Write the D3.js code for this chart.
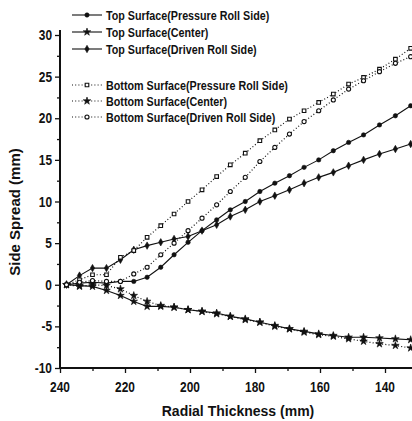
<!DOCTYPE html>
<html>
<head>
<meta charset="utf-8">
<script src="https://cdn.jsdelivr.net/npm/d3@7"></script>
<style>
  html, body { margin: 0; padding: 0; background: #fff; }
  svg { display: block; }
  text { font-family: "Liberation Sans", Arial, sans-serif; font-weight: bold; fill: #111; }
</style>
</head>
<body>
<svg id="chart" width="412" height="421"></svg>
<script>
// ---- data ----
const radialThickness = [238, 234, 230, 225.7, 221.4, 217.3, 213.2, 209, 204.9, 200.6, 196.3, 191.8, 187.6, 183, 178.5, 173.9, 169.4, 164.9, 160.4, 155.9, 151.2, 146.6, 141.7, 136.8, 132.1];

const topPressure   = [0, 0.2, 0.3, 0.2, 0.4, 0.4, 0.9, 2.1, 3.6, 5.1, 6.5, 7.8, 9.0, 10.0, 11.2, 12.2, 13.1, 14.1, 15.0, 16.1, 17.1, 18.0, 19.2, 20.3, 21.5];
const topCenter     = [0, -0.1, -0.2, -0.7, -1.3, -2.0, -2.6, -2.6, -2.7, -3.0, -3.2, -3.4, -3.8, -4.1, -4.5, -4.9, -5.3, -5.6, -5.9, -6.1, -6.3, -6.3, -6.4, -6.5, -6.6];
const topDriven     = [0, 1.1, 2.0, 2.0, 3.0, 4.2, 4.7, 5.1, 5.5, 5.8, 6.5, 7.2, 8.2, 9.0, 10.0, 10.7, 11.4, 12.2, 12.9, 13.5, 14.3, 15.0, 15.7, 16.3, 16.9];
const bottomPressure = [0, 0.6, 1.2, 1.2, 3.3, 4.1, 5.7, 7.1, 8.5, 10.0, 11.4, 13.0, 14.4, 15.8, 17.3, 18.6, 19.9, 20.9, 21.9, 22.9, 24.1, 24.9, 25.9, 27.1, 28.4];
const bottomCenter  = [0, -0.2, 0, -0.1, -0.5, -1.3, -2.0, -2.5, -2.7, -3.0, -3.2, -3.5, -3.8, -4.2, -4.5, -5.0, -5.3, -5.7, -6.0, -6.2, -6.5, -6.8, -7.1, -7.3, -7.6];
const bottomDriven  = [0, 0.3, 0.5, 0.4, 0.4, 1.3, 2.1, 3.6, 5.0, 6.5, 8.0, 9.6, 11.2, 12.9, 14.8, 16.5, 18.1, 19.6, 20.9, 22.2, 23.5, 24.5, 25.6, 26.6, 27.4];

const seriesNames = [
  "Top Surface(Pressure Roll Side)",
  "Top Surface(Center)",
  "Top Surface(Driven Roll Side)",
  "Bottom Surface(Pressure Roll Side)",
  "Bottom Surface(Center)",
  "Bottom Surface(Driven Roll Side)"
];
const seriesValues = [topPressure, topCenter, topDriven, bottomPressure, bottomCenter, bottomDriven];

const xTicks = [240, 220, 200, 180, 160, 140];
const xMinorTicks = [230, 210, 190, 170, 150, 130];
const yTicks = [-10, -5, 0, 5, 10, 15, 20, 25, 30];
const yMinorTicks = [-7.5, -2.5, 2.5, 7.5, 12.5, 17.5, 22.5, 27.5];
const xTitle = "Radial Thickness (mm)";
const yTitle = "Side Spread (mm)";

// ---- styles per series ----
const styles = [
  { symbol: d3.symbolCircle, size: 15, fill: true,  dash: null },
  { symbol: d3.symbolStar,   size: 18, fill: true,  dash: null },
  { symbol: d3.symbolDiamond,size: 16, fill: true,  dash: null },
  { symbol: d3.symbolSquare, size: 13, fill: false, dash: "1,2.2" },
  { symbol: d3.symbolStar,   size: 18, fill: true,  dash: "1,2.2" },
  { symbol: d3.symbolCircle, size: 13, fill: false, dash: "1,2.2" }
];

const ink = "#111";
const svg = d3.select("#chart");

const x = d3.scaleLinear().domain([240, 140]).range([60, 385]);
const y = d3.scaleLinear().domain([-10, 30]).range([368, 35]);

// ---- axes ----
const gx = svg.append("g").attr("transform", "translate(0,368)");
gx.call(d3.axisBottom(x).tickValues(xTicks).tickSize(5).tickFormat(""));
gx.append("g").call(d3.axisBottom(x).tickValues(xMinorTicks).tickSize(3).tickFormat(""));
gx.selectAll(".domain").remove();
gx.selectAll("line").attr("stroke", ink).attr("stroke-width", 1.3);
svg.append("line").attr("x1", 59).attr("x2", 412).attr("y1", 368).attr("y2", 368)
  .attr("stroke", ink).attr("stroke-width", 1.8);

const gy = svg.append("g").attr("transform", "translate(60,0)");
gy.call(d3.axisLeft(y).tickValues(yTicks).tickSize(5).tickFormat(""));
gy.append("g").call(d3.axisLeft(y).tickValues(yMinorTicks).tickSize(3).tickFormat(""));
gy.selectAll(".domain").remove();
gy.selectAll("line").attr("stroke", ink).attr("stroke-width", 1.3);
svg.append("line").attr("x1", 60).attr("x2", 60).attr("y1", 30).attr("y2", 369)
  .attr("stroke", ink).attr("stroke-width", 2);

// tick labels (condensed bold)
svg.append("g").selectAll("text").data(xTicks).join("text")
  .attr("transform", d => `translate(${x(d)},392) scale(0.85,1)`)
  .attr("text-anchor", "middle").style("font-size", "14px").text(d => d);
svg.append("g").selectAll("text").data(yTicks).join("text")
  .attr("transform", d => `translate(52,${y(d) + 5}) scale(0.85,1)`)
  .attr("text-anchor", "end").style("font-size", "14px").text(d => d);

// axis titles
svg.append("text").attr("x", 238).attr("y", 416).attr("text-anchor", "middle")
  .style("font-size", "14px").text(xTitle);
svg.append("text").attr("transform", "translate(20,212) rotate(-90)")
  .attr("text-anchor", "middle").style("font-size", "15px").text(yTitle);

// ---- series ----
const line = d3.line().x((d, i) => x(radialThickness[i])).y(d => y(d));
seriesValues.forEach((vals, k) => {
  const st = styles[k];
  svg.append("path").datum(vals)
    .attr("d", line).attr("fill", "none").attr("stroke", ink)
    .attr("stroke-width", st.dash ? 1.2 : 1.1)
    .attr("stroke-dasharray", st.dash);
  svg.append("g").selectAll("path").data(vals).join("path")
    .attr("transform", (d, i) => `translate(${x(radialThickness[i])},${y(d)})`)
    .attr("d", d3.symbol().type(st.symbol).size(st.size))
    .attr("fill", st.fill ? ink : "#fff")
    .attr("stroke", ink).attr("stroke-width", st.fill ? 0.6 : 1.1);
});

// ---- legend ----
const legendRows = [15, 32, 49, 85, 101, 117];
seriesNames.forEach((name, k) => {
  const st = styles[k];
  const ly = legendRows[k];
  const g = svg.append("g");
  g.append("line").attr("x1", 72).attr("x2", 102).attr("y1", ly).attr("y2", ly)
    .attr("stroke", ink).attr("stroke-width", st.dash ? 1.2 : 1.1)
    .attr("stroke-dasharray", st.dash);
  g.append("path").attr("transform", `translate(87,${ly})`)
    .attr("d", d3.symbol().type(st.symbol).size(st.size))
    .attr("fill", st.fill ? ink : "#fff")
    .attr("stroke", ink).attr("stroke-width", st.fill ? 0.6 : 1.1);
  g.append("text").attr("transform", `translate(106,${ly + 4.5}) scale(0.86,1)`)
    .style("font-size", "12.5px").text(name);
});
</script>
</body>
</html>
